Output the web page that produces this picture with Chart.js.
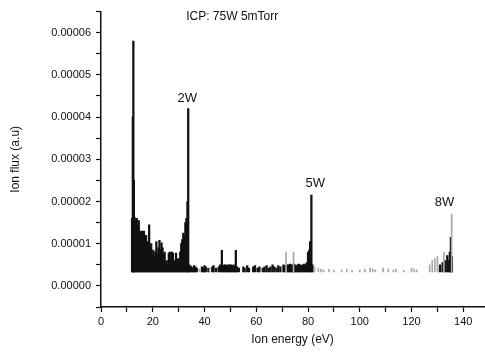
<!DOCTYPE html>
<html lang="en">
<head>
    <meta charset="UTF-8">
    <title>Ion energy spectrum</title>
    <script src="https://cdn.jsdelivr.net/npm/chart.js"></script>
    <style>
        body {
            margin: 0;
            padding: 0;
            background: white;
        }
        #wrap {
            width: 485px;
            height: 355px;
        }
    </style>
</head>
<body>
    <div id="wrap"><canvas id="spectrum" width="485" height="355"></canvas></div>

    <script>
        // baseline of the measured signal
        const baseFlux = 3.3e-6;

        // main (dark) signal: ion energy (eV) and ion flux top value
        const darkEnergy = [
            12.0, 12.3, 12.5, 12.7, 13.0, 13.4, 13.8, 14.2, 14.6, 15.0, 15.4, 15.8, 16.2, 16.6,
            17.0, 17.4, 17.8, 18.2, 18.6, 19.0, 19.4, 19.8, 20.2, 20.6, 21.0, 21.4, 21.8, 22.2,
            22.6, 23.0, 23.4, 23.8, 24.2, 24.6, 25.0, 25.4, 25.8, 26.2, 26.6, 27.0, 27.4, 27.8,
            28.2, 28.6, 29.0, 29.4, 29.8, 30.2, 30.6, 31.0, 31.4, 31.8, 32.2, 32.6, 33.0, 33.4,
            33.7, 34.0,
            34.5, 35.0, 35.5, 36.0, 36.5, 37.0, 39.0, 39.5, 40.0, 40.5, 41.5, 43.0, 43.5, 44.5,
            45.5, 46.0, 46.7, 47.2, 47.7, 48.2, 48.7, 49.2, 49.7, 50.2, 50.7, 51.2, 51.7, 52.1,
            52.6, 53.3, 55.0, 55.5, 56.5, 57.2, 58.8, 59.5, 60.5, 61.2, 62.5, 63.2, 64.0, 64.8,
            65.5, 66.3, 67.0, 67.8, 68.5, 69.3, 70.5, 71.0,
            72.0, 72.5, 73.0, 73.5, 74.0, 74.5, 75.0, 75.5, 76.0, 76.5, 77.0, 77.5, 78.0, 78.5,
            79.0, 79.5, 80.0, 80.5, 80.8, 81.3, 81.7,
            131.0, 132.0, 133.0, 133.8, 134.3, 134.8, 135.2, 135.6
        ];
        const darkFlux = [
            1.6e-5, 4.0e-5, 5.8e-5, 2.5e-5, 1.62e-5, 1.55e-5, 1.6e-5, 1.45e-5, 1.55e-5, 1.3e-5, 1.28e-5, 1.3e-5, 1.25e-5, 1.3e-5,
            1.1e-5, 1.2e-5, 1.0e-5, 1.05e-5, 1.45e-5, 0.9e-5, 1.0e-5, 0.75e-5, 0.85e-5, 0.7e-5, 0.8e-5, 1.05e-5, 0.75e-5, 0.9e-5,
            1.08e-5, 0.85e-5, 1.02e-5, 0.9e-5, 0.75e-5, 0.8e-5, 0.55e-5, 0.6e-5, 0.5e-5, 0.78e-5, 0.8e-5, 0.6e-5, 0.8e-5, 0.78e-5,
            0.55e-5, 0.6e-5, 0.78e-5, 0.6e-5, 0.65e-5, 0.62e-5, 0.8e-5, 1.0e-5, 1.1e-5, 1.25e-5, 1.2e-5, 1.5e-5, 1.6e-5, 2.0e-5,
            4.2e-5, 0.5e-5,
            0.48e-5, 0.45e-5, 0.42e-5, 0.48e-5, 0.45e-5, 0.42e-5, 0.45e-5, 0.42e-5, 0.48e-5, 0.45e-5, 0.42e-5, 0.45e-5, 0.48e-5, 0.42e-5,
            0.45e-5, 0.5e-5, 0.84e-5, 0.48e-5, 0.5e-5, 0.5e-5, 0.48e-5, 0.5e-5, 0.5e-5, 0.5e-5, 0.48e-5, 0.5e-5, 0.48e-5, 0.84e-5,
            0.45e-5, 0.42e-5, 0.45e-5, 0.42e-5, 0.48e-5, 0.42e-5, 0.45e-5, 0.48e-5, 0.42e-5, 0.45e-5, 0.42e-5, 0.45e-5, 0.48e-5, 0.42e-5,
            0.45e-5, 0.5e-5, 0.45e-5, 0.42e-5, 0.48e-5, 0.45e-5, 0.5e-5, 0.48e-5,
            0.5e-5, 0.5e-5, 0.52e-5, 0.5e-5, 0.5e-5, 0.52e-5, 0.5e-5, 0.48e-5, 0.5e-5, 0.52e-5, 0.5e-5, 0.48e-5, 0.5e-5, 0.52e-5,
            0.5e-5, 0.55e-5, 0.8e-5, 0.85e-5, 1.05e-5, 2.15e-5, 0.5e-5,
            0.5e-5, 0.55e-5, 0.6e-5, 0.72e-5, 0.6e-5, 0.8e-5, 1.15e-5, 0.7e-5
        ];

        // faint noise (light grey dotted marks)
        const noiseEnergy = [
            38.0, 42.0, 71.5, 74.4, 82.5, 84.0, 85.0, 86.0, 88.0, 90.0, 93.0, 95.0, 97.0, 100.0,
            102.0, 104.0, 105.0, 106.0, 109.0, 111.0, 113.0, 114.0, 117.0, 120.0, 121.0, 122.0,
            127.0, 128.0, 129.0, 130.0, 132.5, 135.5
        ];
        const noiseFlux = [
            0.4e-5, 0.42e-5, 0.8e-5, 0.8e-5, 0.45e-5, 0.42e-5, 0.4e-5, 0.38e-5, 0.4e-5, 0.37e-5, 0.38e-5, 0.4e-5, 0.37e-5, 0.38e-5,
            0.4e-5, 0.42e-5, 0.4e-5, 0.38e-5, 0.42e-5, 0.4e-5, 0.38e-5, 0.4e-5, 0.37e-5, 0.42e-5, 0.4e-5, 0.38e-5,
            0.5e-5, 0.6e-5, 0.65e-5, 0.7e-5, 0.8e-5, 1.7e-5
        ];

        // peak labels, placed in data coordinates
        const peakNames = ['2W', '5W', '8W'];
        const peakEnergy = [33.3, 82.8, 132.7];
        const peakFlux = [4.44e-5, 2.44e-5, 1.97e-5];

        const titleText = 'ICP: 75W 5mTorr';
        const titleEnergy = 50.7;
        const titleFlux = 6.39e-5;

        const fontFamily = 'Arial, "Liberation Sans", sans-serif';

        const labelPlugin = {
            id: 'peakLabels',
            afterDatasetsDraw(chart) {
                const ctx = chart.ctx;
                const xs = chart.scales.x;
                const ys = chart.scales.y;
                ctx.save();
                ctx.fillStyle = '#111';
                ctx.textAlign = 'center';
                ctx.textBaseline = 'middle';
                ctx.font = '13px ' + fontFamily;
                peakNames.forEach((name, i) => {
                    ctx.fillText(name, xs.getPixelForValue(peakEnergy[i]), ys.getPixelForValue(peakFlux[i]));
                });
                ctx.font = '12px ' + fontFamily;
                ctx.fillText(titleText, xs.getPixelForValue(titleEnergy), ys.getPixelForValue(titleFlux));
                ctx.restore();
            }
        };

        const isMajor = (v, step) => Math.abs(v / step - Math.round(v / step)) < 1e-6;

        new Chart(document.getElementById('spectrum').getContext('2d'), {
            type: 'bar',
            data: {
                datasets: [{
                    label: 'noise',
                    data: noiseEnergy.map((e, i) => ({ x: e, y: [baseFlux, noiseFlux[i]] })),
                    backgroundColor: '#a8a8a8',
                    barThickness: 1,
                    grouped: false
                }, {
                    label: 'ion flux',
                    data: darkEnergy.map((e, i) => ({ x: e, y: [baseFlux, darkFlux[i]] })),
                    backgroundColor: '#111',
                    barThickness: 1.6,
                    grouped: false
                }]
            },
            options: {
                responsive: false,
                animation: false,
                layout: {
                    padding: { top: 10, right: 1, left: 0, bottom: 0 }
                },
                plugins: {
                    legend: { display: false },
                    tooltip: { enabled: false }
                },
                scales: {
                    x: {
                        type: 'linear',
                        min: 0,
                        max: 148,
                        offset: false,
                        afterFit(scale) { scale.height = 48; },
                        ticks: {
                            stepSize: 10,
                            includeBounds: false,
                            maxRotation: 0,
                            autoSkip: false,
                            padding: 3,
                            color: '#111',
                            font: { family: fontFamily, size: 11 },
                            callback: v => isMajor(v, 20) ? String(v) : ''
                        },
                        grid: {
                            drawOnChartArea: false,
                            offset: false,
                            tickLength: 5,
                            tickColor: '#111',
                            tickWidth: 1.2
                        },
                        border: { display: true, color: '#111', width: 1.5 },
                        title: {
                            display: true,
                            text: 'Ion energy (eV)',
                            color: '#111',
                            font: { family: fontFamily, size: 12 },
                            padding: { top: 4, bottom: 8 }
                        }
                    },
                    y: {
                        type: 'linear',
                        min: -0.5e-5,
                        max: 6.5e-5,
                        afterFit(scale) { scale.width = 101; },
                        ticks: {
                            stepSize: 0.5e-5,
                            includeBounds: false,
                            autoSkip: false,
                            padding: 5,
                            color: '#111',
                            font: { family: fontFamily, size: 11 },
                            callback: v => isMajor(v, 1e-5) ? Math.abs(v).toFixed(5) : ''
                        },
                        grid: {
                            drawOnChartArea: false,
                            tickLength: 5,
                            tickColor: '#111',
                            tickWidth: 1.2
                        },
                        border: { display: true, color: '#111', width: 1.5 },
                        title: {
                            display: true,
                            text: 'Ion flux (a.u)',
                            color: '#111',
                            font: { family: fontFamily, size: 12 },
                            padding: { top: 8, bottom: 4 }
                        }
                    }
                }
            },
            plugins: [labelPlugin]
        });
    </script>
</body>
</html>
